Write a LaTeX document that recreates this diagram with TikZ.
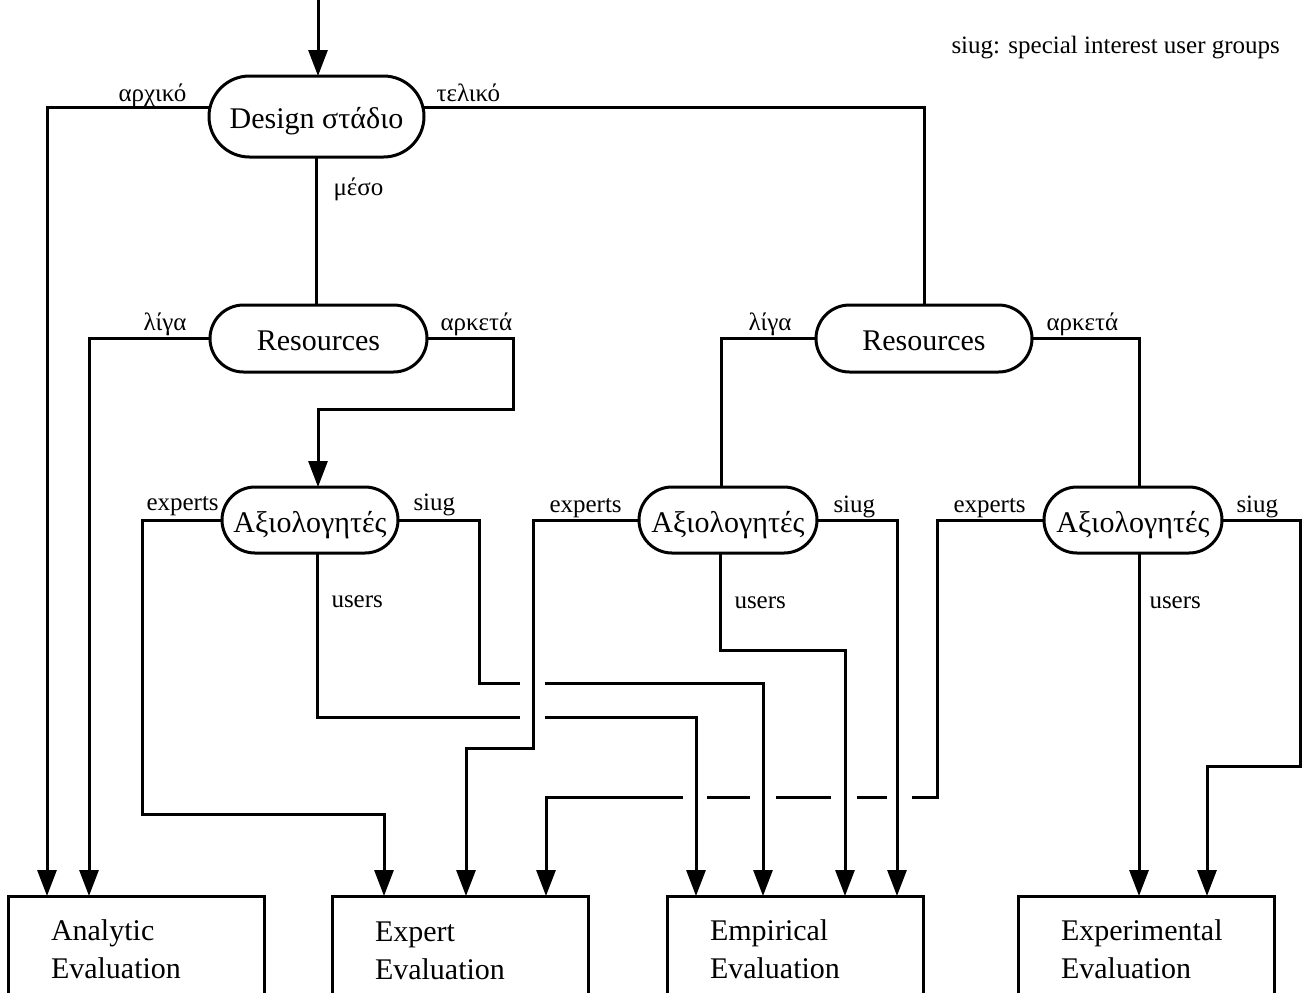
\documentclass[tikz,border=0pt]{standalone}
\usepackage{fontspec}
\setmainfont{Liberation Serif}
\usetikzlibrary{arrows.meta}
\begin{document}
\begin{tikzpicture}[x=0.5pt,y=-0.5pt,line width=1.5pt,line join=miter,
  arr/.style={-{Triangle[length=13pt,width=9.5pt]}},
  pill/.style={draw,rectangle,rounded corners=#1,inner sep=0pt,outer sep=0pt,
     text height=12pt,text depth=0pt,font=\fontsize{15}{18}\selectfont},
  evalbox/.style={draw,rectangle,anchor=north west,text width=85pt,align=left,
     inner xsep=21.5pt,inner ysep=11.75pt,outer sep=0pt,font=\fontsize{15}{19}\selectfont},
  lbl/.style={anchor=base west,inner sep=0pt,font=\fontsize{12.5}{15}\selectfont}]
\useasboundingbox (0,0) rectangle (1302,992);
\clip (0,0) rectangle (1302,992);

% decision nodes
\node[pill=20.25pt,minimum width=107.5pt,minimum height=40.5pt] (design) at (316.5,116.5) {Design στάδιο};
\node[pill=16.75pt,minimum width=108.5pt,minimum height=33.5pt] (res1) at (318.5,338.5) {Resources};
\node[pill=16.75pt,minimum width=108pt,minimum height=33.5pt] (res2) at (924,338.5) {Resources};
\node[pill=16.5pt,minimum width=88pt,minimum height=33pt] (ax1) at (310,520) {Αξιολογητές};
\node[pill=16.5pt,minimum width=89pt,minimum height=33pt] (ax2) at (728,520) {Αξιολογητές};
\node[pill=16.5pt,minimum width=89pt,minimum height=33pt] (ax3) at (1133,520) {Αξιολογητές};

% evaluation boxes
\node[evalbox] (analytic) at (8,896) {Analytic\\Evaluation};
\node[evalbox,inner ysep=13pt] (expert) at (332,896) {Expert\\Evaluation};
\node[evalbox] (empirical) at (667,896) {Empirical\\Evaluation};
\node[evalbox] (experimental) at (1018,896) {Experimental\\Evaluation};

% connectors
\coordinate (start) at (318,0);
\draw[arr] (start) -- (start |- design.north);
\draw[arr] ([yshift=4.75pt]design.west) -| ([xshift=19.5pt]analytic.north west);
\draw ([yshift=4.75pt]design.east) -| (res2.north);
\draw (design.south) -- (design.south |- res1.north);

\coordinate (k1) at (513,409);
\draw[arr] (res1.west) -| ([xshift=40.5pt]analytic.north west);
\draw[arr] (res1.east) -| (k1) -| ([xshift=4pt]ax1.north);
\draw (res2.west) -| ([xshift=-3.5pt]ax2.north);
\draw (res2.east) -| ([xshift=3pt]ax3.north);

\coordinate (k2) at (142,814);
\draw[arr] (ax1.west) -| (k2) -| ([xshift=26pt]expert.north west);
\draw[arr] (ax1.east) -| (479,683) -- (520,683) (545,683) -| ([xshift=48pt]empirical.north west);
\draw[arr] ([xshift=3.5pt]ax1.south) |- (520,717) (545,717) -| ([xshift=14.5pt]empirical.north west);

\draw[arr] (ax2.west) -| (533,748) -| ([xshift=67pt]expert.north west);
\draw[arr] (ax2.east) -| ([xshift=115pt]empirical.north west);
\draw[arr] ([xshift=-4pt]ax2.south) |- (845,650) -- ([xshift=89pt]empirical.north west);

\draw[arr] (ax3.west) -| (937,797) -- (912,797) (887,797) -- (857,797) (831,797) -- (776,797)
   (750,797) -- (707,797) (683,797) -| ([xshift=107pt]expert.north west);
\draw[arr] ([xshift=3pt]ax3.south) -- ([xshift=60.5pt]experimental.north west);
\draw[arr] (ax3.east) -| (1300,766) -| ([xshift=94.5pt]experimental.north west);

% labels
\node[lbl] (l1) at (117,101) {αρχικό};
\node[lbl] (l2) at (435,101) {τελικό};
\node[lbl] (l3) at (332,195) {μέσο};
\node[lbl] (l4) at (142,330) {λίγα};
\node[lbl] (l5) at (439,330) {αρκετά};
\node[lbl] (l6) at (747,330) {λίγα};
\node[lbl] (l7) at (1045,330) {αρκετά};
\node[lbl] (l8) at (145,510) {experts};
\node[lbl] (l9) at (412,510) {siug};
\node[lbl] (l10) at (330,607) {users};
\node[lbl] (l11) at (548,512) {experts};
\node[lbl] (l12) at (832,512) {siug};
\node[lbl] (l13) at (733,608) {users};
\node[lbl] (l14) at (952,512) {experts};
\node[lbl] (l15) at (1235,512) {siug};
\node[lbl] (l16) at (1148,608) {users};
\node[lbl] (note) at (950,53) {siug: special interest user groups};
\end{tikzpicture}
\end{document}
